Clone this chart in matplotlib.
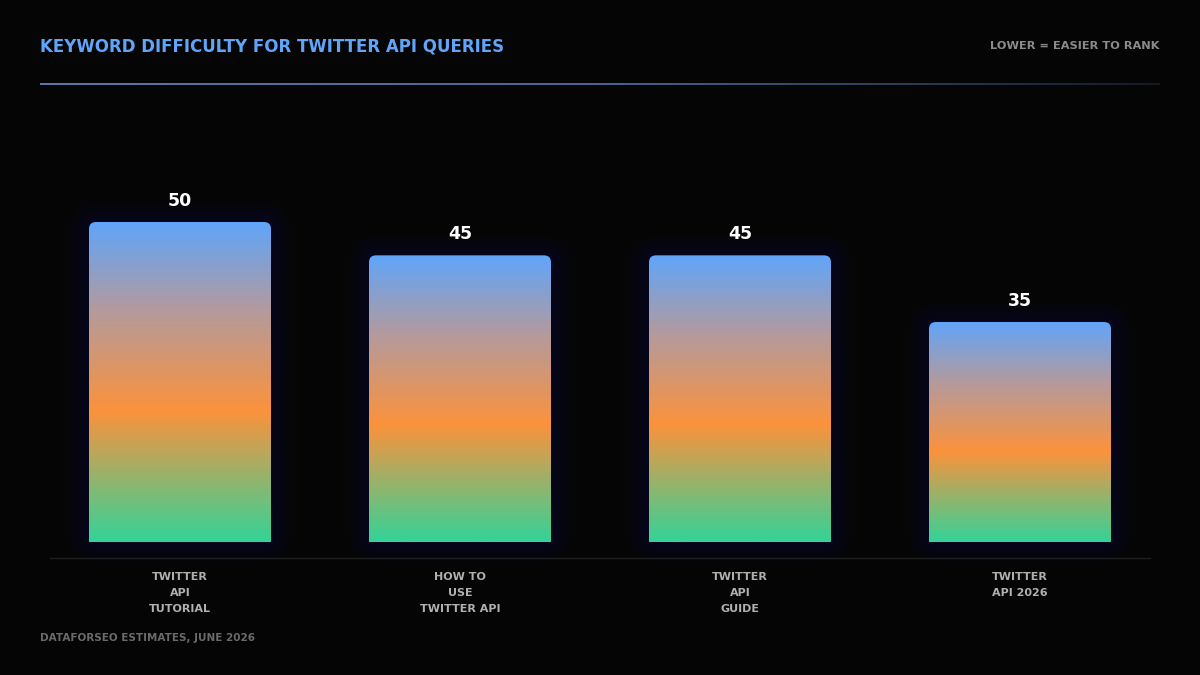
import numpy as np
import matplotlib
matplotlib.use("Agg")
import matplotlib.pyplot as plt
from matplotlib.patches import FancyBboxPatch
from matplotlib.collections import LineCollection
from matplotlib.colors import LinearSegmentedColormap, to_rgba

categories = ["TWITTER\nAPI\nTUTORIAL", "HOW TO\nUSE\nTWITTER API", "TWITTER\nAPI\nGUIDE", "TWITTER\nAPI 2026"]
values = [50, 45, 45, 35]
title = "KEYWORD DIFFICULTY FOR TWITTER API QUERIES"
subtitle = "LOWER = EASIER TO RANK"
footer = "DATAFORSEO ESTIMATES, JUNE 2026"

BG = "#050505"
W, H = 1200, 675
fig = plt.figure(figsize=(12, 6.75), dpi=100, facecolor=BG)
FONT = ["DejaVu Sans"]
renderer = fig.canvas.get_renderer()

def fx(px): return px / W
def fy(py): return 1 - py / H

def fit_text(x, y, s, target_w, **kw):
    t = fig.text(x, y, s, fontsize=10, **kw)
    w = t.get_window_extent(renderer).width
    t.set_fontsize(10 * target_w / w)
    return t

# axes: x 50..1150, baseline 542 .. top 100
ax_left, ax_right, ax_bottom, ax_top = 50, 1150, 542, 100
ax = fig.add_axes([fx(ax_left), fy(ax_bottom), fx(ax_right - ax_left), (ax_bottom - ax_top) / H])
ax.set_facecolor("none")
ppu_y = 100 / 15.0
y0 = 2.0
ax.set_ylim(y0, y0 + (ax_bottom - ax_top) / ppu_y)
spacing = 280.0
ax.set_xlim(-130 / spacing, 3 + 130 / spacing)
ax.axis("off")

cmap = LinearSegmentedColormap.from_list(
    "g", [(0.0, "#34d399"), (0.41, "#fb923c"), (0.72, "#b59a9c"), (1.0, "#60a5fa")])
grad = np.linspace(0, 1, 256).reshape(-1, 1)

bw = 182 / spacing
r_x = 7 / spacing
aspect = spacing / ppu_y

for i, v in enumerate(values):
    x0 = i - bw / 2
    # soft glow
    n = 22
    for k in range(n, 0, -1):
        ex = k * 1.0
        g = FancyBboxPatch((x0 - ex / spacing, y0 - ex / ppu_y), bw + 2 * ex / spacing,
                           v - y0 + 2 * ex / ppu_y,
                           boxstyle=f"round,pad=0,rounding_size={(7 + ex) / spacing}",
                           mutation_aspect=aspect, linewidth=0,
                           facecolor=to_rgba("#1d4466", 0.011 * (1 + 0.03 * (n - k))),
                           zorder=1, clip_on=False)
        ax.add_patch(g)
    clip = FancyBboxPatch((x0, y0 - 5), bw, v - y0 + 5,
                          boxstyle=f"round,pad=0,rounding_size={r_x}",
                          mutation_aspect=aspect, linewidth=0, facecolor="none",
                          transform=ax.transData)
    ax.add_patch(clip)
    im = ax.imshow(grad, extent=[x0, x0 + bw, y0, v], origin="lower", aspect="auto",
                   cmap=cmap, zorder=2, interpolation="bilinear")
    im.set_clip_path(clip)
    ax.text(i, v + 21 / ppu_y, str(v), ha="center", va="center", color="white",
            fontsize=12.5, fontweight="bold", family=FONT, zorder=3)

ax.set_aspect("auto")

# category labels (fit "TWITTER" to ~56px)
probe = fig.text(0, 0, "TWITTER", fontsize=10, fontweight="bold", family=FONT)
cat_fs = 10 * 56 / probe.get_window_extent(renderer).width
probe.remove()
for i, c in enumerate(categories):
    fig.text(fx(ax_left + 130 + i * spacing), fy(572), c, ha="center", va="top",
             color="#b0b0b0", fontsize=cat_fs, fontweight="bold", family=FONT, linespacing=1.78)

# axis line
fig.add_artist(plt.Line2D([fx(50), fx(1150)], [fy(558), fy(558)], color="#1f1f1f", lw=1))

# title underline gradient
xs = np.linspace(fx(40), fx(1160), 200)
segs = [[(xs[j], fy(83.5)), (xs[j + 1], fy(83.5))] for j in range(len(xs) - 1)]
lcm = LinearSegmentedColormap.from_list("l", ["#7399dd", "#5f7fba", "#1a2130"])
cols = [lcm(j / (len(segs) - 1)) for j in range(len(segs))]
lc = LineCollection(segs, colors=cols, linewidths=1.1, transform=fig.transFigure)
fig.add_artist(lc)

fit_text(fx(40), fy(46), title, 467, ha="left", va="center", color="#60a5fa",
         fontweight="heavy", family=FONT)
fit_text(fx(1160), fy(46), subtitle, 170, ha="right", va="center", color="#8a8a8a",
         fontweight="bold", family=FONT)
fit_text(fx(40), fy(638), footer, 215, ha="left", va="center", color="#6a6a6a",
         fontweight="bold", family=FONT)

fig.savefig("out.png", dpi=100, facecolor=BG)
